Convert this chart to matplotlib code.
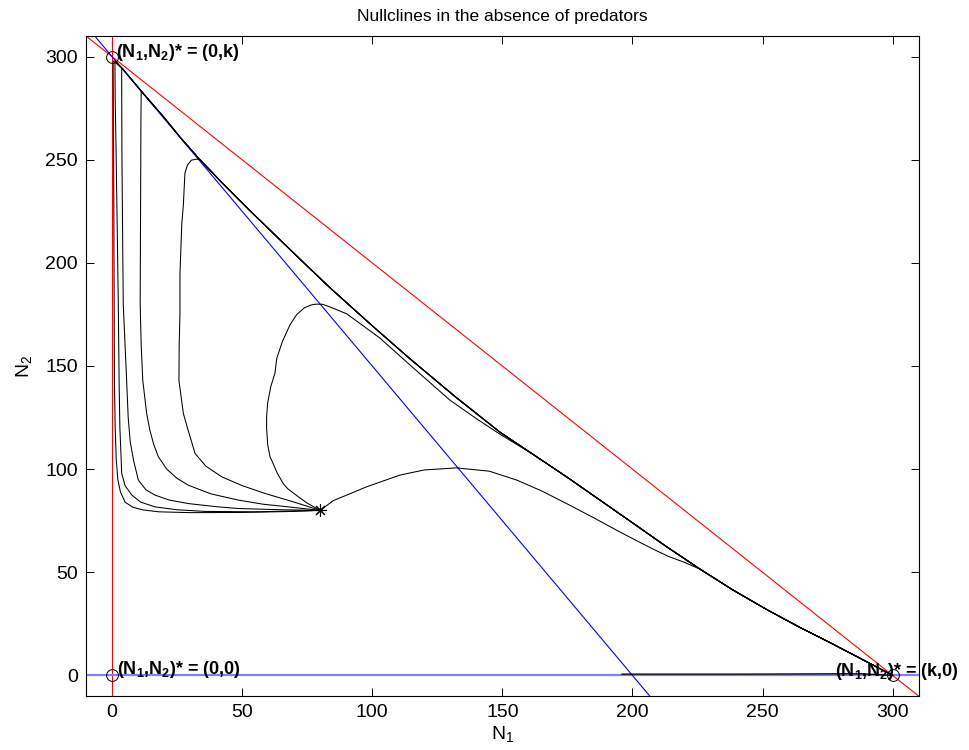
import matplotlib.pyplot as plt
import numpy as np

plt.rcParams['font.family'] = ['Liberation Sans', 'DejaVu Sans']
plt.rcParams['mathtext.fontset'] = 'custom'
plt.rcParams['mathtext.rm'] = 'Liberation Sans'
plt.rcParams['mathtext.bf'] = 'Liberation Sans:bold'
plt.rcParams['mathtext.default'] = 'rm'

K = 300
start = (80, 80)
equilibria_x = [0, 0, 300]
equilibria_y = [0, 300, 0]

# slow curve from (0,k) to (k,0)
env_x = [0, 4, 11.2, 20, 26.1, 33.8, 42, 53, 71, 83.7, 100, 114.5, 132, 149, 162, 175,
         187.5, 200, 213, 226, 238.5, 251.5, 264, 277, 289, 300]
env_y = [300, 294.2, 283.3, 270.5, 261, 250, 239.2, 225.3, 203.3, 188, 169.5, 153.5, 135, 118, 107, 96,
         85, 74, 62.5, 51.5, 41.5, 32, 23.5, 15.2, 7.3, 0]

# first part of each trajectory (starts at the star), then it joins the slow curve
head1_x = [80, 70, 50, 30, 18, 12, 8, 5, 3.2, 2.2, 1.6, 1.2, 0.9, 0.8, 0.6, 0.4]
head1_y = [80, 79.5, 79, 78.9, 79.3, 80.2, 81.5, 84, 89, 95, 105, 120, 143, 180, 250, 298]
head2_x = [80, 55, 35.7, 25, 16.5, 11, 7.6, 5, 3.7, 3.4, 3.0, 2.7, 2.4, 1.6, 1.2, 1.1]
head2_y = [80, 79.3, 79.5, 80.3, 81.7, 84, 87.4, 92, 98, 108, 120, 143, 180, 250, 280, 298]
head3_x = [80, 65, 48.5, 40, 29.3, 22, 16.5, 13, 10.1, 8.3, 7, 6.2, 5.6, 4.3, 3.8, 3.7, 3.7]
head3_y = [80, 80.3, 80.9, 81.8, 83.3, 85, 87.4, 90, 94.7, 104, 113, 125, 143, 180, 250, 290, 294.5]
head4_x = [80, 67.7, 58, 48.5, 38, 29.3, 25, 21, 17.8, 16, 14.5, 13.3, 11.8, 11.2, 10.8, 11, 11.1, 11.2]
head4_y = [80, 81.7, 83, 85, 88, 92.2, 95.5, 100, 106, 112, 119, 127, 143, 160, 180, 240, 270, 283.3]
head5_x = [80, 70, 58.8, 50, 42.1, 36, 31.9, 29.2, 27.4, 25.7, 25.8, 26.1, 26.1, 26.8, 27.4,
           28, 29, 30.5, 32.5, 33.8]
head5_y = [80, 84, 88.2, 92, 96.3, 101.5, 107.6, 119, 127, 143, 160, 175.7, 195, 219, 228,
           243.5, 247.5, 249.8, 250.3, 250]
head6_x = [80, 75, 71.6, 67.5, 65.8, 63.5, 61.8, 60.7, 59.8, 59.4, 59.4, 59.8, 61, 62.6, 63.3,
           65.5, 68.4, 71, 74, 76.5, 78.6, 81, 84, 90.2, 103, 114.5, 129.8, 140, 149]
head6_y = [80, 83.5, 86.6, 90.5, 93, 98, 103, 106, 112, 120, 125.4, 132, 140, 146.5, 153.7,
           162, 170, 175, 178.3, 179.6, 180, 179.9, 178.5, 175.3, 163.5, 150.5, 133.5, 124.5, 117]
head7_x = [80, 85, 97.8, 110.6, 120, 132.4, 145, 155.5, 165, 174.7, 185, 193.9, 201, 208, 214, 220]
head7_y = [80, 84.7, 91.4, 97.1, 99.6, 100.6, 99, 94.7, 89.5, 83.3, 76.5, 70.4, 65.7, 61.2, 57.6, 54.8]
axis_x = [196, 240, 288, 300]
axis_y = [0.6, 0.6, 0.8, 0]

fig = plt.figure(figsize=(9.69, 7.5), dpi=100)
ax = fig.add_axes([0.0888, 0.072, 0.8592, 0.88])

# nullclines
ax.axvline(0, color='red', lw=0.8)
ax.axline((0, K), (K, 0), color='red', lw=0.8)
ax.axhline(0, color='#7f7fff', lw=1.6)
ax.axline((0, K), (200, 0), color='blue', lw=0.8)

env_x = np.array(env_x)
env_y = np.array(env_y)

def trajectory(hx, hy):
    # head, then the slow curve from where the head ends
    tail = env_x > hx[-1]
    return np.r_[hx, env_x[tail]], np.r_[hy, env_y[tail]]

for hx, hy in [(head1_x, head1_y), (head2_x, head2_y), (head3_x, head3_y),
               (head4_x, head4_y), (head5_x, head5_y), (head6_x, head6_y),
               (head7_x, head7_y)]:
    tx, ty = trajectory(hx, hy)
    ax.plot(tx, ty, color='black', lw=0.75)

ax.plot(axis_x, axis_y, color='black', lw=0.9)

ax.plot(equilibria_x, equilibria_y, 'o', mfc='none', mec='black', ms=8.5, mew=0.7, clip_on=False)
ax.plot(*start, marker=(8, 2, 0), color='black', ms=9, mew=0.8)

lab = r'(N$_\mathbf{1}$,N$_\mathbf{2}$)* = '
ax.text(1.5, 302, lab + '(0,k)', fontsize=13, fontweight='bold', va='center')
ax.text(2, 3, lab + '(0,0)', fontsize=13, fontweight='bold', va='center')
ax.text(278, 2, lab + '(k,0)', fontsize=13, fontweight='bold', va='center')

ax.set_xlim(-10, 310)
ax.set_ylim(-10, 310)
ax.set_xticks(np.arange(0, 301, 50))
ax.set_yticks(np.arange(0, 301, 50))
ax.tick_params(direction='in', length=6, width=0.7, labelsize=14, top=True, right=True, pad=6)
for s in ax.spines.values():
    s.set_linewidth(0.8)

ax.set_xlabel(r'N$_1$', fontsize=14, labelpad=2)
ax.set_ylabel(r'N$_2$', fontsize=14, labelpad=8)
ax.set_title('Nullclines in the absence of predators', fontsize=12.5, pad=11)

plt.savefig('out.png', dpi=100)
